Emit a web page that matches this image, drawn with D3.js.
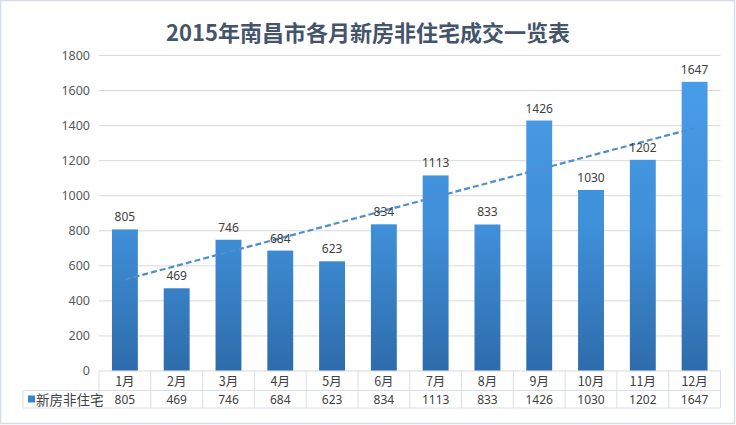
<!DOCTYPE html>
<html lang="zh">
<head>
<meta charset="UTF-8">
<title>2015年南昌市各月新房非住宅成交一览表</title>
<script src="https://d3js.org/d3.v7.min.js"></script>
<style>
    body { margin: 0; background: #fff; }
    text { font-family: "Noto Sans CJK SC", "Noto Sans", sans-serif; }
</style>
</head>
<body>
<svg width="736" height="425"></svg>
<script>
// data
let months = ['1月','2月','3月','4月','5月','6月','7月','8月','9月','10月','11月','12月'];
let values = [805, 469, 746, 684, 623, 834, 1113, 833, 1426, 1030, 1202, 1647];
let yTicks = [0, 200, 400, 600, 800, 1000, 1200, 1400, 1600, 1800];
let seriesName = '新房非住宅';

let svg = d3.select('svg');
let plot = {left: 99, right: 720.5, top: 55, bottom: 370.5};

// outer frame
svg.append('rect').attr('x', 0.5).attr('y', 0.5).attr('width', 734).attr('height', 423)
    .attr('fill', '#fff').attr('stroke', '#d6dce5').attr('stroke-width', 1.5);

// title
svg.append('text').attr('x', 368).attr('y', 41).attr('text-anchor', 'middle')
    .attr('font-size', 22).attr('font-weight', 'bold').attr('fill', '#44546a')
    .text('2015年南昌市各月新房非住宅成交一览表');

let xScale = d3.scaleBand().domain(months).range([plot.left, plot.right]).paddingInner(0.5).paddingOuter(0.25);
let yScale = d3.scaleLinear().domain([0, 1800]).range([plot.bottom, plot.top]);

// grid + y axis
let yAxis = svg.append('g').attr('transform', 'translate(' + plot.left + ',0)')
    .call(d3.axisLeft(yScale).tickValues(yTicks).tickFormat(d3.format('d'))
        .tickSize(-(plot.right - plot.left)).tickPadding(9));
yAxis.select('.domain').remove();
yAxis.selectAll('line').attr('stroke', '#d9d9d9');
yAxis.selectAll('text').attr('font-size', 12.5).attr('fill', '#595959')
    .style('font-family', '"Noto Sans", sans-serif');

// gradient for bars
let grad = svg.append('defs').append('linearGradient').attr('id', 'barGrad')
    .attr('gradientUnits', 'userSpaceOnUse')
    .attr('x1', 0).attr('y1', yScale(1800)).attr('x2', 0).attr('y2', yScale(0));
grad.append('stop').attr('offset', '0%').attr('stop-color', '#4a9eea');
grad.append('stop').attr('offset', '55%').attr('stop-color', '#3f8fd9');
grad.append('stop').attr('offset', '100%').attr('stop-color', '#2e6cab');

let data = months.map(function(m, i){ return {m: m, v: values[i]}; });

svg.append('g').selectAll('rect').data(data).join('rect')
    .attr('x', function(d){ return xScale(d.m); })
    .attr('width', xScale.bandwidth())
    .attr('y', function(d){ return yScale(d.v); })
    .attr('height', function(d){ return yScale(0) - yScale(d.v); })
    .attr('fill', 'url(#barGrad)');

// linear trend line (least squares on the values)
let n = values.length;
let xs = d3.range(1, n + 1);
let xm = d3.mean(xs), ym = d3.mean(values);
let slope = d3.sum(xs, function(x, i){ return (x - xm) * (values[i] - ym); }) /
            d3.sum(xs, function(x){ return (x - xm) * (x - xm); });
let icpt = ym - slope * xm;
let trend = [1, n].map(function(x){ return {m: months[x - 1], v: icpt + slope * x}; });
let cx = function(d){ return xScale(d.m) + xScale.bandwidth() / 2; };
svg.append('path').datum(trend)
    .attr('d', d3.line().x(cx).y(function(d){ return yScale(d.v); }))
    .attr('fill', 'none').attr('stroke', '#4f8fd0').attr('stroke-width', 2.2)
    .attr('stroke-dasharray', '6,3');

// data labels
svg.append('g').selectAll('text').data(data).join('text')
    .attr('x', cx).attr('y', function(d){ return yScale(d.v) - 8; })
    .attr('text-anchor', 'middle').attr('font-size', 12).attr('fill', '#404040')
    .style('font-family', '"Noto Sans", sans-serif')
    .text(function(d){ return d.v; });

// data table
let step = xScale.step();
let row1 = plot.bottom, row2 = 390.5, row3 = 408;
let tbl = svg.append('g').attr('stroke', '#d9dee6').attr('stroke-width', 1).attr('fill', 'none');
let colX = months.map(function(m){ return xScale(m) - xScale.paddingInner() * step / 2; });
colX.push(plot.right);
tbl.append('line').attr('x1', plot.left).attr('x2', plot.right).attr('y1', row2).attr('y2', row2);
tbl.append('line').attr('x1', 23).attr('x2', plot.right).attr('y1', row3).attr('y2', row3);
tbl.append('line').attr('x1', 23).attr('x2', plot.left).attr('y1', row2).attr('y2', row2);
tbl.append('line').attr('x1', 23).attr('x2', 23).attr('y1', row2).attr('y2', row3);
tbl.selectAll('.col').data(colX).join('line')
    .attr('x1', function(d){ return d; }).attr('x2', function(d){ return d; })
    .attr('y1', row1).attr('y2', row3);

svg.append('g').selectAll('text').data(data).join('text')
    .attr('x', cx).attr('y', row1 + 15)
    .attr('text-anchor', 'middle').attr('font-size', 12.5).attr('fill', '#404040')
    .text(function(d){ return d.m; });
svg.append('g').selectAll('text').data(data).join('text')
    .attr('x', cx).attr('y', row2 + 13.5)
    .attr('text-anchor', 'middle').attr('font-size', 12).attr('fill', '#404040')
    .style('font-family', '"Noto Sans", sans-serif')
    .text(function(d){ return d.v; });

// legend key
svg.append('rect').attr('x', 28).attr('y', 395.5).attr('width', 7).attr('height', 7).attr('fill', '#3a84cf');
svg.append('text').attr('x', 36).attr('y', row2 + 14).attr('font-size', 13.5).attr('fill', '#404040')
    .text(seriesName);
</script>
</body>
</html>
